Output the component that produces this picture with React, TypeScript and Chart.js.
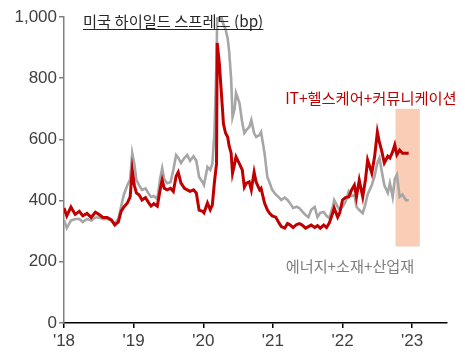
import React, { useEffect, useRef } from "react";
import { Chart, registerables } from "chart.js";

Chart.register(...registerables);

// Dates as decimal years
const dates = [
  2018.0, 2018.04, 2018.1, 2018.16, 2018.22, 2018.27, 2018.33, 2018.39, 2018.45, 2018.5,
  2018.56, 2018.62, 2018.68, 2018.73, 2018.78, 2018.82, 2018.86, 2018.91, 2018.95, 2018.98,
  2019.01, 2019.04, 2019.08, 2019.12, 2019.17, 2019.21, 2019.25, 2019.29, 2019.34, 2019.38,
  2019.41, 2019.44, 2019.48, 2019.53, 2019.57, 2019.61, 2019.64, 2019.68, 2019.73, 2019.77,
  2019.81, 2019.86, 2019.9, 2019.94, 2019.99, 2020.01, 2020.06, 2020.1, 2020.13, 2020.16,
  2020.19, 2020.2, 2020.23, 2020.26, 2020.29, 2020.32, 2020.35, 2020.37, 2020.4, 2020.42,
  2020.45, 2020.47, 2020.52, 2020.56, 2020.59, 2020.62, 2020.66, 2020.69, 2020.73, 2020.76,
  2020.81, 2020.83, 2020.88, 2020.92, 2020.95, 2020.99, 2021.04, 2021.08, 2021.12, 2021.17,
  2021.21, 2021.25, 2021.29, 2021.34, 2021.38, 2021.42, 2021.47, 2021.51, 2021.55, 2021.6,
  2021.64, 2021.68, 2021.73, 2021.77, 2021.81, 2021.86, 2021.88, 2021.93, 2021.96, 2022.0,
  2022.04, 2022.09, 2022.13, 2022.17, 2022.2, 2022.24, 2022.29, 2022.33, 2022.36, 2022.42,
  2022.46, 2022.5, 2022.53, 2022.56, 2022.6, 2022.65, 2022.68, 2022.72, 2022.75, 2022.78,
  2022.82, 2022.86, 2022.91, 2022.95,
];

// IT + Healthcare + Communication (bp)
const techSpread = [
  376, 350, 379, 355, 365, 350, 358, 345, 362, 355,
  345, 345, 337, 320, 330, 365, 379, 392, 412, 500,
  450, 425, 418, 402, 410, 395, 382, 390, 382, 435,
  467, 440, 435, 440, 430, 480, 493, 457, 440, 435,
  430, 435, 425, 369, 365, 360, 392, 370, 385, 460,
  520, 915, 850, 752, 650, 621, 608, 580, 555, 490,
  520, 543, 520, 500, 444, 457, 461, 435, 493, 460,
  435, 440, 392, 370, 359, 350, 346, 330, 315, 310,
  325, 320, 312, 322, 325, 320, 310, 315, 320, 312,
  318, 310, 320, 312, 327, 360, 376, 346, 360, 402,
  410, 412, 435, 451, 412, 467, 412, 470, 533, 490,
  543, 624, 590, 565, 523, 545, 539, 560, 582, 550,
  565, 555, 555, 555,
];

// Energy + Materials + Industrials (bp)
const cyclicalSpread = [
  337, 310, 335, 340, 340, 330, 340, 335, 345, 345,
  340, 340, 335, 325, 340, 380, 420, 450, 470, 555,
  520, 467, 450, 435, 440, 425, 412, 415, 405, 470,
  506, 470, 457, 460, 500, 549, 540, 523, 540, 549,
  530, 545, 530, 477, 460, 451, 510, 500, 520, 620,
  850, 1000, 990, 1000, 975, 960, 930, 892, 800, 673,
  700, 752, 719, 654, 621, 631, 640, 663, 620, 608,
  615, 624, 555, 477, 460, 435, 420, 412, 402, 410,
  402, 390, 376, 380, 376, 365, 353, 346, 370, 379,
  346, 360, 363, 350, 343, 380, 402, 380, 370, 380,
  395, 430, 415, 418, 380, 369, 359, 390, 420, 451,
  480, 523, 539, 500, 450, 425, 457, 412, 470, 484,
  412, 420, 402, 400,
];

const xTickValues = [2018, 2019, 2020, 2021, 2022, 2023];
const yTickValues = [0, 200, 400, 600, 800, 1000];
const highlightX = [2022.76, 2023.11];
const highlightY = [250, 700];

const title = "미국 하이일드 스프레드 (bp)";
const techLabel = "IT+헬스케어+커뮤니케이션";
const cyclicalLabel = "에너지+소재+산업재";

const RED = "#c00000";
const GREY = "#a6a6a6";

const annotationPlugin = {
  id: "annotations",
  beforeDatasetsDraw(chart: any) {
    const { ctx, scales } = chart;
    const x = scales.x;
    const y = scales.y;
    const x0 = x.getPixelForValue(highlightX[0]);
    const x1 = x.getPixelForValue(highlightX[1]);
    const y0 = y.getPixelForValue(highlightY[1]);
    const y1 = y.getPixelForValue(highlightY[0]);
    ctx.save();
    ctx.fillStyle = "#f9cdb6";
    ctx.fillRect(x0, y0, x1 - x0, y1 - y0);
    ctx.restore();
  },
  afterDraw(chart: any) {
    const { ctx } = chart;
    ctx.save();
    const kfont = "'Noto Sans CJK KR', 'Noto Sans', sans-serif";
    // Title
    ctx.font = `15.3px ${kfont}`;
    ctx.fillStyle = "#262626";
    ctx.textBaseline = "middle";
    ctx.textAlign = "left";
    ctx.fillText(title, 83, 21);
    const w = ctx.measureText(title).width;
    ctx.strokeStyle = "#262626";
    ctx.lineWidth = 1;
    ctx.beginPath();
    ctx.moveTo(83, 29.5);
    ctx.lineTo(83 + w, 29.5);
    ctx.stroke();
    // Series labels
    ctx.textAlign = "center";
    ctx.font = `15.3px ${kfont}`;
    ctx.fillStyle = RED;
    ctx.fillText(techLabel, 371, 98);
    ctx.font = `15.2px ${kfont}`;
    ctx.fillStyle = "#7f7f7f";
    ctx.fillText(cyclicalLabel, 350, 266);
    ctx.restore();
  },
};

export default function App() {
  const canvasRef = useRef<HTMLCanvasElement | null>(null);

  useEffect(() => {
    document.body.style.margin = "0";
    const canvas = canvasRef.current;
    if (!canvas) return;
    const chart = new Chart(canvas, {
      type: "line",
      data: {
        datasets: [
          {
            label: techLabel,
            data: dates.map((d, i) => ({ x: d, y: techSpread[i] })),
            borderColor: RED,
            borderWidth: 3,
            pointRadius: 0,
            tension: 0,
          },
          {
            label: cyclicalLabel,
            data: dates.map((d, i) => ({ x: d, y: cyclicalSpread[i] })),
            borderColor: GREY,
            borderWidth: 2.6,
            pointRadius: 0,
            tension: 0,
          },
        ],
      },
      options: {
        animation: false,
        responsive: false,
        devicePixelRatio: 1,
        layout: { padding: { left: 0, top: 17, right: 18, bottom: 0 } },
        plugins: {
          legend: { display: false },
          tooltip: { enabled: false },
        },
        scales: {
          x: {
            type: "linear",
            min: 2018,
            max: 2023.5,
            afterBuildTicks: (scale: any) => {
              scale.ticks = xTickValues.map((v) => ({ value: v }));
            },
            afterFit: (scale: any) => {
              scale.height = 33;
            },
            ticks: {
              callback: (v: any) => "'" + String(v).slice(2),
              font: { size: 17, family: "'Liberation Sans', Arial, sans-serif" },
              color: "#404040",
              padding: 3,
              maxRotation: 0,
            },
            grid: {
              drawOnChartArea: false,
              drawTicks: true,
              tickLength: 5,
              color: "#000000",
              lineWidth: 1.5,
            },
            border: { color: "#000000", width: 1.5 },
          },
          y: {
            min: 0,
            max: 1000,
            afterBuildTicks: (scale: any) => {
              scale.ticks = yTickValues.map((v) => ({ value: v }));
            },
            afterFit: (scale: any) => {
              scale.width = 64;
            },
            ticks: {
              callback: (v: any) => Number(v).toLocaleString("en-US"),
              font: { size: 17, family: "'Liberation Sans', Arial, sans-serif" },
              color: "#404040",
              padding: 2,
            },
            grid: {
              drawOnChartArea: false,
              drawTicks: true,
              tickLength: 5,
              color: "#808080",
              lineWidth: 1.5,
            },
            border: { color: "#808080", width: 1.5 },
          },
        },
      },
      plugins: [annotationPlugin],
    });
    return () => chart.destroy();
  }, []);

  return (
    <div style={{ width: 465, height: 356, background: "#ffffff" }}>
      <canvas ref={canvasRef} width={465} height={356} />
    </div>
  );
}
